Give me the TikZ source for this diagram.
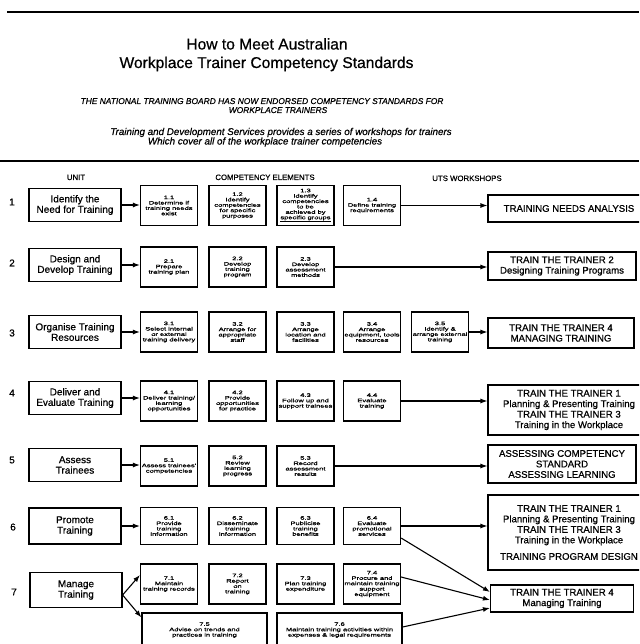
\documentclass[tikz,border=0pt]{standalone}
\usepackage{fontspec}
\setmainfont{Liberation Sans}
\newfontfamily\heavyfont[FakeBold=0.6]{Liberation Sans}
\newfontfamily\elemfont[FakeStretch=1.5,FakeBold=1.2]{Liberation Sans}
\usetikzlibrary{arrows.meta}
\begin{document}
\begin{tikzpicture}[x=1pt,y=-1pt,
  rule/.style={line width=1.8pt},
  unitbox/.style={draw,line width=1.2pt,minimum width=92pt,minimum height=33pt,align=center,inner sep=1pt,
    font=\heavyfont\fontsize{10}{10.5}\selectfont},
  elem/.style={draw,line width=1.2pt,minimum width=57pt,minimum height=40pt,align=center,inner sep=0.5pt,
    font=\elemfont\fontsize{5}{5.4}\selectfont},
  wideelem/.style={elem,minimum width=125pt,minimum height=34pt},
  shop/.style={draw,line width=1.1pt,align=center,inner sep=1pt,font=\heavyfont\fontsize{9.6}{10.5}\selectfont},
  num/.style={font=\heavyfont\fontsize{10}{11}\selectfont},
  head/.style={anchor=base,font=\heavyfont\fontsize{7.8}{9}\selectfont},
  title/.style={anchor=base,font=\heavyfont\fontsize{15.6}{18}\selectfont},
  capsline/.style={anchor=base,font=\heavyfont\itshape\fontsize{8.4}{9}\selectfont},
  textline/.style={anchor=base,font=\heavyfont\itshape\fontsize{9.8}{10}\selectfont},
  link/.style={line width=1.1pt,-{Latex[length=7pt,width=5pt]}}
]
\useasboundingbox (0,0) rectangle (639,644);
\clip (0,0) rectangle (639,644);

% heading rules
\draw[rule] (7,12) -- (639,12);
\draw[rule] (0,161) -- (639,161);

% title block
\node[title] (t1) at (267,49.5) {How to Meet Australian};
\node[title] (t2) at (266.5,68) {Workplace Trainer Competency Standards};
\node[capsline] (s1) at (262,104) {THE NATIONAL TRAINING BOARD HAS NOW ENDORSED COMPETENCY STANDARDS FOR};
\node[capsline] (s2) at (278,113) {WORKPLACE TRAINERS};
\node[textline] (s3) at (281,135) {Training and Development Services provides a series of workshops for trainers};
\node[textline] (s4) at (265,144.5) {Which cover all of the workplace trainer competencies};

% column headings
\node[head] (hunit) at (76,180) {UNIT};
\node[head] (helem) at (265,180) {COMPETENCY ELEMENTS};
\node[head] (hshop) at (467,181) {UTS WORKSHOPS};

% row numbers
\node[num] (n1) at (12,202) {1};
\node[num] (n2) at (12,263) {2};
\node[num] (n3) at (12,333) {3};
\node[num] (n4) at (12,393) {4};
\node[num] (n5) at (12,460) {5};
\node[num] (n6) at (13,527) {6};
\node[num] (n7) at (14,592) {7};

% units
\node[unitbox] (u1) at (75,205) {Identify the\\Need for Training};
\node[unitbox] (u2) at (75,265) {Design and\\Develop Training};
\node[unitbox] (u3) at (75,332) {Organise Training\\Resources};
\node[unitbox] (u4) at (75,398) {Deliver and\\Evaluate Training};
\node[unitbox] (u5) at (75,465) {Assess\\Trainees};
\node[unitbox,minimum height=36pt] (u6) at (75,526) {Promote\\Training};
\node[unitbox,minimum height=35pt] (u7) at (76,590) {Manage\\Training};

% competency elements
\node[elem] (e11) at (169,205.5) {1.1\\Determine if\\training needs\\exist};
\node[elem] (e12) at (237.5,205.5) {1.2\\Identify\\competencies\\for specific\\purposes};
\node[elem] (e13) at (305.5,205.5) {1.3\\Identify\\competencies\\to be\\achieved by\\\underline{specific groups}};
\node[elem] (e14) at (372,205.5) {1.4\\Define training\\requirements};

\node[elem] (e21) at (169,267) {2.1\\Prepare\\training plan};
\node[elem] (e22) at (237.5,267) {2.2\\Develop\\training\\program};
\node[elem] (e23) at (305.5,267) {2.3\\Develop\\assessment\\methods};

\node[elem] (e31) at (169,332) {3.1\\Select internal\\or external\\training delivery};
\node[elem] (e32) at (237.5,332) {3.2\\Arrange for\\appropriate\\staff};
\node[elem] (e33) at (305.5,332) {3.3\\Arrange\\location and\\facilities};
\node[elem] (e34) at (372,332) {3.4\\Arrange\\equipment, tools\\resources};
\node[elem] (e35) at (440,332) {3.5\\Identify \&\\arrange external\\training};

\node[elem] (e41) at (169,401) {4.1\\Deliver training/\\learning\\opportunities};
\node[elem] (e42) at (237.5,401) {4.2\\Provide\\opportunities\\for practice};
\node[elem] (e43) at (305.5,401) {4.3\\Follow up and\\support trainees};
\node[elem] (e44) at (372,401) {4.4\\Evaluate\\training};

\node[elem] (e51) at (169,466) {5.1\\Assess trainees'\\competencies};
\node[elem] (e52) at (237.5,466) {5.2\\Review\\learning\\progress};
\node[elem] (e53) at (305.5,466) {5.3\\Record\\assessment\\results};

\node[elem,minimum height=37pt] (e61) at (169,526) {6.1\\Provide\\training\\information};
\node[elem,minimum height=37pt] (e62) at (237.5,526) {6.2\\Disseminate\\training\\information};
\node[elem,minimum height=37pt] (e63) at (305.5,526) {6.3\\Publicise\\training\\benefits};
\node[elem,minimum height=37pt] (e64) at (372,526) {6.4\\Evaluate\\promotional\\services};

\node[elem] (e71) at (169,584) {7.1\\Maintain\\training records};
\node[elem] (e72) at (237.5,584) {7.2\\Report\\on\\training};
\node[elem] (e73) at (305.5,584) {7.3\\Plan training\\expenditure};
\node[elem] (e74) at (372,584) {7.4\\Procure and\\maintain training\\support\\equipment};
\node[wideelem] (e75) at (204.5,630) {7.5\\Advise on trends and\\practices in training};
\node[wideelem] (e76) at (339.5,630) {7.6\\Maintain training activities within\\expenses \& legal requirements};

% workshops
\node[shop,minimum width=162pt,minimum height=27pt] (w1) at (569,208.5) {TRAINING NEEDS ANALYSIS};
\node[shop,minimum width=148pt,minimum height=28pt] (w2) at (562,266) {TRAIN THE TRAINER 2\\Designing Training Programs};
\node[shop,minimum width=146pt,minimum height=30pt] (w3) at (561,333) {TRAIN THE TRAINER 4\\MANAGING TRAINING};
\node[shop,minimum width=162pt,minimum height=50pt] (w4) at (569,410) {TRAIN THE TRAINER 1\\Planning \& Presenting Training\\TRAIN THE TRAINER 3\\Training in the Workplace};
\node[shop,minimum width=148pt,minimum height=38pt] (w5) at (562,464) {ASSESSING COMPETENCY\\STANDARD\\ASSESSING LEARNING};
\node[shop,minimum width=162pt,minimum height=75pt] (w6) at (569,532.5) {TRAIN THE TRAINER 1\\Planning \& Presenting Training\\TRAIN THE TRAINER 3\\Training in the Workplace\\[6pt]TRAINING PROGRAM DESIGN};
\node[shop,minimum width=143pt,minimum height=27pt] (w7) at (562,598.5) {TRAIN THE TRAINER 4\\Managing Training};

% unit to first element
\draw[link] (u1.east) -- (u1.east -| e11.west);
\draw[link] (u2.east) -- (u2.east -| e21.west);
\draw[link] (u3.east) -- (u3.east -| e31.west);
\draw[link] (u4.east) -- (u4.east -| e41.west);
\draw[link] (u5.east) -- (u5.east -| e51.west);
\draw[link] (u6.east) -- (u6.east -| e61.west);
\draw[link] ([yshift=-5pt]u7.east) -- ([yshift=9pt]e71.west);
\draw[link] ([yshift=-5pt]u7.east) -- ([yshift=-5pt]e75.north west);

% elements to workshops
\draw[link] (e14.east) -- (e14.east -| w1.west);
\draw[link] (e23.east) -- (e23.east -| w2.west);
\draw[link] (e35.east) -- (e35.east -| w3.west);
\draw[link] (e44.east) -- (e44.east -| w4.west);
\draw[link] (e53.east) -- (e53.east -| w5.west);
\draw[link] (e64.east) -- (e64.east -| w6.west);
\draw[link] ([yshift=-12pt]e64.east) -- ([yshift=6.5pt]w7.west);
\draw[link] ([yshift=7pt]e74.east) -- ([yshift=-1.5pt]w7.west);
\draw[link] ([yshift=3pt]e76.east) -- ([yshift=-9.5pt]w7.west);
\end{tikzpicture}
\end{document}
